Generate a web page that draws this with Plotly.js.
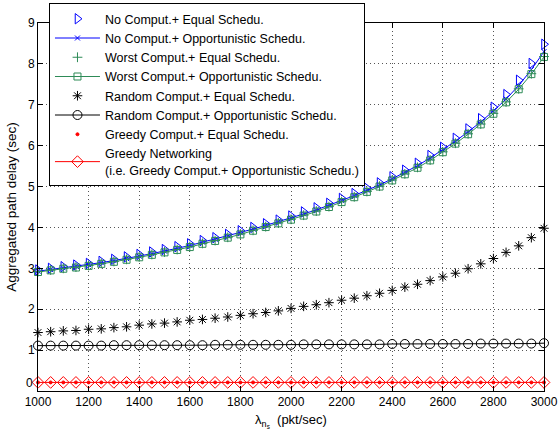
<!DOCTYPE html>
<html><head><meta charset="utf-8">
<script src="https://cdn.plot.ly/plotly-3.0.1.min.js"></script>
<style>html,body{margin:0;padding:0;background:#fff}#chart{width:559px;height:443px}</style>
</head><body><div id="chart"></div>
<script>
const lambdaNs = [1000,1050,1100,1150,1200,1250,1300,1350,1400,1450,1500,1550,1600,1650,1700,1750,1800,1850,1900,1950,2000,2050,2100,2150,2200,2250,2300,2350,2400,2450,2500,2550,2600,2650,2700,2750,2800,2850,2900,2950,3000];
const noCompEqual = [2.96,3.00,3.04,3.08,3.12,3.17,3.22,3.28,3.34,3.40,3.46,3.53,3.60,3.68,3.75,3.83,3.92,4.00,4.09,4.18,4.28,4.38,4.48,4.59,4.71,4.83,4.96,5.09,5.24,5.40,5.57,5.76,5.96,6.18,6.41,6.66,6.94,7.25,7.60,8.01,8.48];
const noCompOpp = [2.93,2.97,3.01,3.05,3.09,3.14,3.19,3.24,3.30,3.36,3.42,3.49,3.56,3.64,3.71,3.79,3.87,3.96,4.05,4.14,4.23,4.33,4.43,4.54,4.66,4.78,4.91,5.04,5.19,5.35,5.51,5.70,5.90,6.11,6.34,6.58,6.85,7.14,7.47,7.86,8.30];
const worstCompEqual = [2.92,2.96,3.00,3.03,3.07,3.12,3.17,3.22,3.28,3.34,3.40,3.46,3.53,3.61,3.68,3.76,3.84,3.93,4.02,4.11,4.20,4.30,4.40,4.51,4.63,4.75,4.88,5.01,5.16,5.31,5.47,5.65,5.85,6.06,6.29,6.53,6.79,7.07,7.39,7.76,8.18];
const worstCompOpp = [2.91,2.95,2.99,3.02,3.06,3.11,3.16,3.21,3.27,3.33,3.39,3.45,3.52,3.60,3.67,3.75,3.83,3.92,4.01,4.10,4.19,4.29,4.39,4.50,4.62,4.74,4.87,5.00,5.15,5.30,5.46,5.64,5.84,6.05,6.28,6.52,6.78,7.06,7.38,7.75,8.17];
const randCompEqual = [1.43,1.45,1.47,1.48,1.51,1.52,1.55,1.57,1.61,1.64,1.66,1.69,1.73,1.75,1.78,1.81,1.85,1.89,1.92,1.96,2.02,2.07,2.11,2.16,2.22,2.27,2.33,2.39,2.46,2.54,2.61,2.70,2.79,2.88,2.99,3.11,3.24,3.39,3.55,3.75,3.98];
const randCompOpp = [1.11,1.11,1.11,1.11,1.11,1.11,1.12,1.12,1.12,1.12,1.12,1.12,1.12,1.12,1.13,1.13,1.13,1.13,1.13,1.13,1.13,1.14,1.14,1.14,1.14,1.14,1.14,1.14,1.15,1.15,1.15,1.15,1.15,1.15,1.15,1.16,1.16,1.16,1.16,1.16,1.17];
const greedyCompEqual = [0.21,0.21,0.21,0.21,0.21,0.21,0.21,0.21,0.21,0.21,0.21,0.21,0.21,0.21,0.21,0.21,0.21,0.21,0.21,0.21,0.21,0.21,0.21,0.21,0.21,0.21,0.21,0.21,0.21,0.21,0.21,0.21,0.21,0.21,0.21,0.21,0.21,0.21,0.21,0.21,0.21];
const greedyNetworking = [0.21,0.21,0.21,0.21,0.21,0.21,0.21,0.21,0.21,0.21,0.21,0.21,0.21,0.21,0.21,0.21,0.21,0.21,0.21,0.21,0.21,0.21,0.21,0.21,0.21,0.21,0.21,0.21,0.21,0.21,0.21,0.21,0.21,0.21,0.21,0.21,0.21,0.21,0.21,0.21,0.21];
const names = ['No Comput.+ Equal Schedu.','No Comput.+ Opportunistic Schedu.','Worst Comput.+ Equal Schedu.','Worst Comput.+ Opportunistic Schedu.','Random Comput.+ Equal Schedu.','Random Comput.+ Opportunistic Schedu.','Greedy Comput.+ Equal Schedu.','Greedy Networking<br>(i.e. Greedy Comput.+ Opportunistic Schedu.)'];
const xTicks = [1000,1200,1400,1600,1800,2000,2200,2400,2600,2800,3000];
const yTicks = [1,2,3,4,5,6,7,8,9];
const yZeroLabel = '0';

const BLUE='#0000ff', GREEN='#2e8b57', BLACK='#000000', RED='#ff0000';
function tr(y,name,mode,sym,size,color){
  return {x:lambdaNs,y:y,name:name,mode:mode,cliponaxis:false,
    marker:{symbol:sym,size:size,color:color,line:{color:color,width:1}},
    line:{color:color,width:1}};
}
const data=[
  tr(noCompEqual,names[0],'markers','triangle-right-open',9,BLUE),
  tr(noCompOpp,names[1],'lines+markers','x-thin-open',5,BLUE),
  tr(worstCompEqual,names[2],'markers','cross-thin-open',7,GREEN),
  tr(worstCompOpp,names[3],'lines+markers','square-open',7,GREEN),
  tr(randCompEqual,names[4],'markers','asterisk-open',8,BLACK),
  tr(randCompOpp,names[5],'lines+markers','circle-open',9,BLACK),
  tr(greedyCompEqual,names[6],'markers','circle',3,RED),
  tr(greedyNetworking,names[7],'lines+markers','diamond-open',9,RED)
];
const FONT='Liberation Sans, Arial, Helvetica, sans-serif';
const axisCommon={showline:true,linecolor:'#000',linewidth:1,mirror:'ticks',ticks:'inside',ticklen:5,tickcolor:'#000',
  showgrid:true,gridcolor:'#555',griddash:'1px,3px',gridwidth:1,zeroline:false,tickfont:{family:FONT,size:12,color:'#000'}};
const layout={
  width:559,height:443,paper_bgcolor:'#fff',plot_bgcolor:'#fff',
  margin:{l:38,r:15,t:23,b:52,autoexpand:false},
  font:{family:FONT,color:'#000'},
  xaxis:Object.assign({},axisCommon,{range:[1000,3000],tickvals:xTicks,ticktext:xTicks.map(String),automargin:false,
    title:{text:'λ<sub>n<sub>s</sub></sub>  (pkt/sec)',font:{family:FONT,size:13},standoff:6}}),
  yaxis:Object.assign({},axisCommon,{range:[0,9],tickvals:yTicks,ticktext:yTicks.map(String),automargin:false,
    title:{text:'Aggregated path delay (sec)',font:{family:FONT,size:13.5},standoff:8}}),
  annotations:[{x:0,xref:'paper',y:0,yref:'y',text:yZeroLabel,showarrow:false,xanchor:'right',yanchor:'middle',
    xshift:-3,yshift:8,font:{family:FONT,size:12,color:'#000'}}],
  showlegend:true,
  legend:{x:0.0217,y:1.054,xanchor:'left',yanchor:'top',bgcolor:'#fff',bordercolor:'#000',borderwidth:1,
    font:{family:FONT,size:12.5,color:'#000'},itemwidth:45,tracegroupgap:0}
};
Plotly.newPlot('chart',data,layout,{displayModeBar:false,staticPlot:true});
</script>
</body></html>
